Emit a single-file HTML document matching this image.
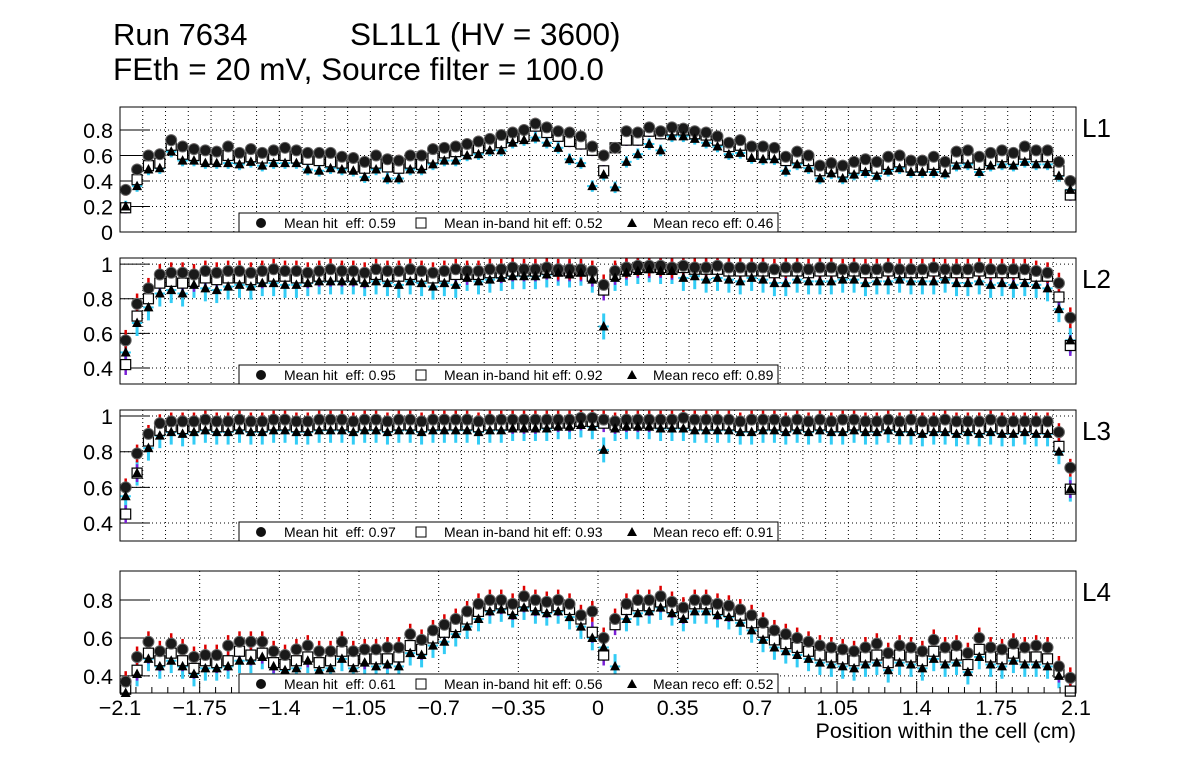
<!DOCTYPE html>
<html><head><meta charset="utf-8"><style>
body{margin:0;background:#fff;width:1196px;height:772px;overflow:hidden;font-family:"Liberation Sans",Arial,sans-serif}
svg{position:absolute;left:0;top:0}
text{white-space:pre}
</style></head><body>
<svg id="chart" width="1196" height="772" xmlns="http://www.w3.org/2000/svg">
<text x="113" y="45" font-size="31">Run 7634</text>
<text x="350" y="45" font-size="31.5">SL1L1 (HV = 3600)</text>
<text x="113" y="80" font-size="31.5">FEth = 20 mV, Source filter = 100.0</text>
<text x="1076" y="738" font-size="21.5" text-anchor="end">Position within the cell (cm)</text>
</svg>
<script>
const xTicks=[-2.1,-1.75,-1.4,-1.05,-0.7,-0.35,0,0.35,0.7,1.05,1.4,1.75,2.1];
const layerNames=["L1","L2","L3","L4"];
const meanHit=[0.59,0.95,0.97,0.61];
const meanBand=[0.52,0.92,0.93,0.56];
const meanReco=[0.46,0.89,0.91,0.52];
const p1Hit=[0.33,0.49,0.60,0.61,0.72,0.67,0.65,0.64,0.63,0.67,0.62,0.65,0.62,0.64,0.66,0.64,0.62,0.62,0.62,0.59,0.58,0.55,0.60,0.57,0.56,0.60,0.60,0.65,0.66,0.67,0.69,0.71,0.73,0.76,0.78,0.80,0.85,0.82,0.79,0.78,0.75,0.67,0.60,0.66,0.79,0.78,0.82,0.79,0.82,0.81,0.79,0.78,0.75,0.70,0.72,0.67,0.67,0.66,0.59,0.63,0.60,0.52,0.54,0.52,0.55,0.57,0.55,0.59,0.60,0.56,0.56,0.59,0.55,0.63,0.64,0.59,0.62,0.64,0.62,0.67,0.64,0.64,0.55,0.40];
const p1Band=[0.19,0.41,0.52,0.54,0.68,0.61,0.60,0.57,0.57,0.60,0.58,0.59,0.58,0.60,0.60,0.58,0.57,0.56,0.55,0.54,0.51,0.50,0.54,0.51,0.50,0.54,0.53,0.58,0.62,0.63,0.64,0.66,0.68,0.70,0.74,0.75,0.83,0.78,0.75,0.71,0.69,0.64,0.48,0.66,0.72,0.72,0.79,0.77,0.80,0.80,0.77,0.76,0.72,0.67,0.68,0.61,0.61,0.61,0.56,0.58,0.56,0.48,0.50,0.47,0.50,0.52,0.50,0.53,0.55,0.51,0.51,0.53,0.50,0.58,0.58,0.53,0.56,0.59,0.57,0.61,0.59,0.59,0.48,0.29];
const p1Reco=[0.20,0.36,0.49,0.50,0.63,0.56,0.56,0.54,0.54,0.54,0.53,0.55,0.52,0.54,0.54,0.54,0.49,0.48,0.50,0.49,0.48,0.43,0.49,0.42,0.42,0.49,0.49,0.53,0.56,0.56,0.60,0.61,0.64,0.64,0.70,0.72,0.74,0.70,0.66,0.57,0.54,0.36,0.45,0.35,0.55,0.61,0.69,0.64,0.75,0.75,0.73,0.70,0.67,0.61,0.62,0.58,0.57,0.57,0.48,0.53,0.50,0.42,0.46,0.42,0.45,0.47,0.44,0.48,0.50,0.47,0.47,0.47,0.46,0.52,0.53,0.47,0.52,0.53,0.52,0.55,0.53,0.53,0.44,0.33];
const p2Hit=[0.56,0.77,0.86,0.94,0.95,0.95,0.94,0.96,0.95,0.96,0.96,0.95,0.96,0.97,0.96,0.96,0.95,0.96,0.97,0.96,0.96,0.95,0.97,0.96,0.96,0.97,0.96,0.95,0.96,0.97,0.96,0.96,0.97,0.97,0.98,0.97,0.97,0.98,0.97,0.97,0.97,0.96,0.88,0.96,0.98,0.99,0.99,0.99,0.98,0.99,0.98,0.98,0.99,0.98,0.98,0.98,0.98,0.97,0.98,0.98,0.97,0.98,0.98,0.97,0.98,0.97,0.97,0.98,0.97,0.97,0.97,0.98,0.97,0.97,0.97,0.98,0.97,0.97,0.97,0.97,0.96,0.95,0.89,0.69];
const p2Band=[0.42,0.70,0.80,0.89,0.90,0.89,0.90,0.92,0.91,0.92,0.92,0.91,0.92,0.93,0.93,0.92,0.92,0.93,0.93,0.93,0.93,0.92,0.94,0.93,0.93,0.94,0.93,0.92,0.93,0.94,0.94,0.94,0.95,0.95,0.96,0.96,0.96,0.97,0.96,0.96,0.96,0.93,0.85,0.94,0.97,0.98,0.98,0.98,0.97,0.98,0.97,0.97,0.97,0.96,0.96,0.96,0.96,0.95,0.96,0.96,0.95,0.96,0.96,0.95,0.96,0.95,0.95,0.96,0.95,0.95,0.95,0.96,0.95,0.95,0.95,0.96,0.95,0.95,0.95,0.94,0.93,0.93,0.81,0.53];
const p2Reco=[0.49,0.66,0.75,0.83,0.85,0.83,0.88,0.86,0.85,0.87,0.88,0.87,0.89,0.89,0.88,0.88,0.89,0.90,0.90,0.90,0.90,0.89,0.90,0.89,0.88,0.90,0.89,0.87,0.89,0.88,0.92,0.90,0.91,0.92,0.93,0.93,0.93,0.94,0.95,0.94,0.95,0.91,0.64,0.92,0.95,0.96,0.97,0.96,0.96,0.92,0.93,0.91,0.92,0.91,0.90,0.92,0.91,0.89,0.89,0.91,0.90,0.90,0.90,0.91,0.91,0.89,0.90,0.90,0.91,0.90,0.90,0.90,0.91,0.89,0.89,0.90,0.88,0.89,0.88,0.89,0.88,0.86,0.74,0.56];
const p3Hit=[0.60,0.79,0.90,0.96,0.97,0.97,0.97,0.98,0.97,0.97,0.98,0.97,0.97,0.98,0.98,0.97,0.97,0.98,0.98,0.98,0.97,0.98,0.98,0.97,0.98,0.98,0.97,0.98,0.98,0.98,0.98,0.97,0.98,0.98,0.98,0.98,0.98,0.98,0.98,0.98,0.99,0.99,0.98,0.97,0.98,0.98,0.98,0.98,0.98,0.99,0.98,0.98,0.98,0.98,0.97,0.98,0.98,0.98,0.97,0.98,0.97,0.98,0.97,0.98,0.98,0.97,0.97,0.98,0.97,0.98,0.97,0.97,0.98,0.97,0.97,0.97,0.98,0.97,0.97,0.97,0.97,0.97,0.91,0.71];
const p3Band=[0.45,0.68,0.86,0.92,0.94,0.93,0.94,0.95,0.94,0.94,0.95,0.94,0.94,0.95,0.95,0.94,0.94,0.95,0.95,0.95,0.94,0.95,0.95,0.94,0.95,0.95,0.94,0.95,0.95,0.95,0.95,0.94,0.95,0.95,0.95,0.95,0.95,0.96,0.96,0.96,0.97,0.97,0.96,0.95,0.96,0.96,0.96,0.96,0.96,0.96,0.95,0.95,0.95,0.95,0.94,0.94,0.95,0.95,0.94,0.95,0.94,0.95,0.94,0.94,0.95,0.94,0.94,0.95,0.94,0.94,0.93,0.94,0.94,0.93,0.94,0.93,0.94,0.93,0.93,0.94,0.93,0.93,0.83,0.59];
const p3Reco=[0.55,0.68,0.82,0.89,0.91,0.90,0.91,0.92,0.91,0.91,0.92,0.91,0.91,0.92,0.92,0.91,0.91,0.92,0.92,0.92,0.91,0.92,0.92,0.91,0.92,0.92,0.91,0.92,0.92,0.92,0.92,0.91,0.92,0.92,0.93,0.93,0.93,0.93,0.94,0.94,0.95,0.94,0.81,0.93,0.94,0.94,0.94,0.93,0.93,0.93,0.92,0.92,0.92,0.92,0.91,0.91,0.92,0.92,0.91,0.92,0.91,0.92,0.91,0.91,0.92,0.91,0.91,0.92,0.91,0.91,0.90,0.91,0.91,0.90,0.91,0.90,0.91,0.90,0.90,0.91,0.90,0.90,0.80,0.59];
const p4Hit=[0.37,0.50,0.58,0.53,0.57,0.54,0.50,0.51,0.51,0.56,0.58,0.58,0.58,0.53,0.51,0.54,0.56,0.53,0.53,0.58,0.53,0.54,0.54,0.55,0.55,0.62,0.59,0.64,0.67,0.70,0.74,0.78,0.80,0.80,0.78,0.82,0.80,0.79,0.80,0.78,0.72,0.74,0.60,0.70,0.78,0.80,0.80,0.82,0.79,0.76,0.80,0.80,0.78,0.77,0.75,0.72,0.68,0.64,0.62,0.60,0.58,0.56,0.55,0.54,0.53,0.55,0.57,0.52,0.56,0.55,0.53,0.59,0.55,0.56,0.52,0.60,0.55,0.54,0.57,0.55,0.56,0.55,0.45,0.39];
const p4Band=[0.33,0.43,0.52,0.48,0.52,0.48,0.44,0.48,0.47,0.48,0.53,0.51,0.52,0.47,0.46,0.48,0.50,0.47,0.48,0.53,0.48,0.49,0.49,0.49,0.50,0.56,0.54,0.60,0.63,0.66,0.70,0.74,0.77,0.78,0.75,0.79,0.77,0.76,0.77,0.75,0.70,0.63,0.51,0.67,0.75,0.77,0.77,0.79,0.76,0.73,0.78,0.78,0.75,0.74,0.72,0.68,0.63,0.59,0.57,0.55,0.53,0.51,0.50,0.49,0.48,0.50,0.51,0.47,0.51,0.50,0.48,0.53,0.50,0.51,0.46,0.54,0.50,0.49,0.52,0.50,0.50,0.49,0.42,0.32];
const p4Reco=[0.31,0.41,0.49,0.45,0.48,0.45,0.41,0.44,0.44,0.45,0.48,0.48,0.50,0.45,0.43,0.44,0.48,0.43,0.44,0.49,0.44,0.47,0.45,0.46,0.45,0.52,0.51,0.56,0.58,0.62,0.66,0.70,0.74,0.75,0.72,0.76,0.74,0.73,0.74,0.71,0.66,0.60,0.55,0.45,0.70,0.73,0.74,0.76,0.73,0.70,0.74,0.74,0.72,0.71,0.68,0.64,0.59,0.55,0.53,0.51,0.49,0.47,0.46,0.45,0.44,0.46,0.47,0.43,0.47,0.46,0.44,0.49,0.46,0.47,0.42,0.50,0.46,0.45,0.48,0.46,0.46,0.45,0.40,0.30];
const hitErr=[0.045,0.06,0.05,0.055];
const recoErr=[0.045,0.075,0.07,0.065];
const yTicks1=[0,0.2,0.4,0.6,0.8];
const yTicks2=[0.4,0.6,0.8,1];
const yTicks3=[0.4,0.6,0.8,1];
const yTicks4=[0.4,0.6,0.8];

const svg=document.getElementById('chart');
const NS='http://www.w3.org/2000/svg';
const X0=120,X1=1076,XMIN=-2.1,XMAX=2.1;
const sx=v=>X0+(v-XMIN)/(XMAX-XMIN)*(X1-X0);
function mk(tag,attrs,parent){const e=document.createElementNS(NS,tag);for(const k in attrs)e.setAttribute(k,attrs[k]);(parent||svg).appendChild(e);return e;}
const panels=[
 {top:107,bot:232,ymin:0,ymax:0.98,ticks:yTicks1,hit:p1Hit,band:p1Band,reco:p1Reco,fine:true},
 {top:258,bot:384,ymin:0.308,ymax:1.035,ticks:yTicks2,hit:p2Hit,band:p2Band,reco:p2Reco,fine:true},
 {top:410,bot:541,ymin:0.299,ymax:1.034,ticks:yTicks3,hit:p3Hit,band:p3Band,reco:p3Reco,fine:true},
 {top:571,bot:693,ymin:0.31,ymax:0.953,ticks:yTicks4,hit:p4Hit,band:p4Band,reco:p4Reco,fine:false}
];
const nb=84,bw=(XMAX-XMIN)/nb;
panels.forEach((p,pi)=>{
 const g=mk('g',{});
 
 
 const sy=v=>p.bot-(v-p.ymin)/(p.ymax-p.ymin)*(p.bot-p.top);
 const gx=[];
 if(p.fine){for(let k=-20;k<=20;k++)gx.push(k/10);} else {xTicks.forEach(t=>gx.push(t));}
 gx.forEach(v=>{const x=sx(v);if(x<=X0+1||x>=X1-1)return;const l=mk('line',{x1:x,x2:x,y1:p.top,y2:p.bot,stroke:'#000','stroke-width':1,'stroke-dasharray':'1,3'},g);});
 p.ticks.forEach(t=>{const y=sy(t);
  if(y>p.top+1&&y<p.bot-1){const l=mk('line',{x1:X0,x2:X1,y1:y,y2:y,stroke:'#000','stroke-width':1,'stroke-dasharray':'1,3'},g);}
  const tk=mk('line',{x1:X0,x2:X0+30,y1:y,y2:y,stroke:'#000','stroke-width':1},g);
  const tx=mk('text',{x:113,y:y+8,'font-size':21.5,'text-anchor':'end'},g);tx.textContent=String(t);
  
 });
 const hx=5.2;
 const drawErr=(arr,err,col,w)=>{arr.forEach((v,i)=>{const xc=sx(XMIN+(i+0.5)*bw);
   const e1=mk('line',{x1:xc,x2:xc,y1:sy(Math.min(v+err,p.ymax)),y2:sy(Math.max(v-err,p.ymin)),stroke:col,'stroke-width':w},g);
   const e2=mk('line',{x1:xc-hx,x2:xc+hx,y1:sy(v),y2:sy(v),stroke:col,'stroke-width':2},g);});};
 drawErr(p.reco,recoErr[pi],'#33ccf5',3);
 drawErr(p.band,hitErr[pi],'#7a1fd6',2.5);
 drawErr(p.hit,hitErr[pi],'#dd0000',2.5);
 p.band.forEach((v,i)=>{if(v<p.ymin)return;const xc=sx(XMIN+(i+0.5)*bw),y=sy(v);
  const r=mk('rect',{x:xc-5,y:y-5,width:10,height:10,fill:'#fff',stroke:'#000','stroke-width':1.2},g);});
 p.hit.forEach((v,i)=>{const xc=sx(XMIN+(i+0.5)*bw),y=sy(v);
  const c=mk('circle',{cx:xc,cy:y,r:5.5,fill:'#1a1a1a',stroke:'#666','stroke-width':1},g);});
 p.reco.forEach((v,i)=>{if(v<p.ymin)return;const xc=sx(XMIN+(i+0.5)*bw),y=sy(v);
  const t=mk('polygon',{points:`${xc},${y-5.5} ${xc-5},${y+4} ${xc+5},${y+4}`,fill:'#000'},g);});
 if(pi===3){
  for(let k=0;k<=60;k++){const v=XMIN+k*0.07;const x=sx(v);const major=k%5===0;
   const tk=mk('line',{x1:x,x2:x,y1:p.bot,y2:p.bot-(major?12:6),stroke:'#000'},g);}
  xTicks.forEach(t=>{const tx=mk('text',{x:sx(t),y:715,'font-size':21.5,'text-anchor':'middle'},g);
   tx.textContent=(t<0?'\u2212':'')+String(Math.abs(t));
   });
 }
 const fr=mk('rect',{x:X0,y:p.top,width:X1-X0,height:p.bot-p.top,fill:'none',stroke:'#000','stroke-width':1},g);
 
 const lg=mk('g',{},g);
 
 const ly=p.bot-19;
 mk('rect',{x:239,y:ly,width:539,height:19,fill:'#fff',stroke:'#000','stroke-width':1},lg);
 const cy=ly+10;
 mk('circle',{cx:261,cy:cy,r:5,fill:'#111'},lg);
 const t1=mk('text',{x:284,y:cy+5,'font-size':14},lg);t1.textContent='Mean hit  eff: '+meanHit[pi].toFixed(2);
 mk('rect',{x:416,y:cy-5,width:10,height:10,fill:'#fff',stroke:'#000'},lg);
 const t2=mk('text',{x:444,y:cy+5,'font-size':14},lg);t2.textContent='Mean in-band hit eff: '+meanBand[pi].toFixed(2);
 mk('polygon',{points:`632,${cy-5} 627,${cy+4} 637,${cy+4}`,fill:'#000'},lg);
 const t3=mk('text',{x:653,y:cy+5,'font-size':14},lg);t3.textContent='Mean reco eff: '+meanReco[pi].toFixed(2);
 const ln=mk('text',{x:1082,y:p.top+30,'font-size':26},g);ln.textContent=layerNames[pi];
 
});
</script>
</body></html>
